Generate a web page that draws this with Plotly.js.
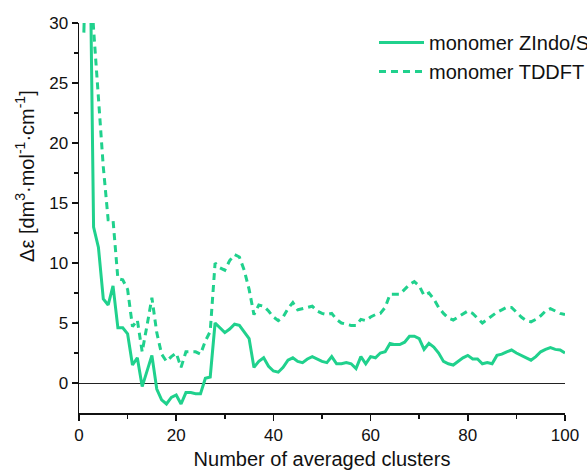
<!DOCTYPE html>
<html>
<head>
<meta charset="utf-8">
<script src="https://cdn.plot.ly/plotly-3.0.1.min.js"></script>
<style>html,body{margin:0;padding:0;background:#fff;}#chart{width:587px;height:476px;}</style>
</head>
<body>
<div id="chart"></div>
<script>
// Number of averaged clusters
var clusters = [];
for (var i = 1; i <= 100; i++) clusters.push(i);

var zindoValues = [
  29.2, 45, 13, 11.3, 7, 6.5, 8.1, 4.6, 4.6, 4.1,
  1.5, 2.1, -0.3, 1.0, 2.3, -0.5, -1.4, -1.75, -1.2, -1.0,
  -1.75, -0.8, -0.8, -0.9, -0.9, 0.4, 0.5, 5.0, 4.6, 4.2,
  4.5, 4.9, 4.8, 4.2, 3.7, 1.3, 1.8, 2.1, 1.4, 1.0,
  0.9, 1.3, 1.9, 2.1, 1.8, 1.7, 2.0, 2.2, 2.0, 1.8,
  1.7, 2.2, 1.6, 1.6, 1.7, 1.6, 1.2, 2.2, 1.6, 2.2,
  2.1, 2.5, 2.6, 3.3, 3.2, 3.2, 3.4, 3.9, 3.9, 3.7,
  2.8, 3.3, 3.0, 2.5, 1.8, 1.6, 1.5, 1.8, 2.1, 2.3,
  2.0, 2.0, 1.6, 1.7, 1.6, 2.3, 2.4, 2.6, 2.75, 2.5,
  2.3, 2.1, 1.9, 2.2, 2.6, 2.8, 2.95, 2.8, 2.75, 2.5
];

var tddftValues = [
  40, 36, 29.5, 24, 18, 13.6, 13.6, 8.7, 8.6, 7.8,
  4.7, 5.25, 2.6, 4.8, 7.1, 4.2, 2.4, 1.8, 2.2, 2.5,
  1.3, 2.6, 2.6, 2.6, 2.4, 3.5, 4.3, 10.0, 9.6, 9.4,
  10.2, 10.7, 10.5, 9.4, 7.8, 5.7, 6.5, 6.4, 6.0, 5.5,
  5.2, 5.5, 6.2, 6.7, 6.1, 6.2, 6.3, 6.4, 6.0, 5.8,
  5.7, 5.8, 5.3, 5.0, 4.9, 4.8, 4.8, 5.3, 5.2, 5.5,
  5.7, 5.8, 6.3, 7.4, 7.4, 7.4, 7.8, 8.2, 8.45, 8.1,
  7.3, 7.5, 7.0, 6.3, 5.8, 5.4, 5.25, 5.5, 5.8, 6.0,
  5.8, 5.4, 5.0, 5.3, 5.6, 5.9, 6.1, 6.3, 6.3, 5.9,
  5.5, 5.2, 5.1, 5.3, 5.6, 6.0, 6.2, 6.0, 5.8, 5.7
];

var seriesNames = ['monomer ZIndo/S', 'monomer TDDFT'];
var xTicks = [0, 20, 40, 60, 80, 100];
var yTicks = [0, 5, 10, 15, 20, 25, 30];
var xTitle = 'Number of averaged clusters';
var yTitle = 'Δε [dm<sup>3</sup>·mol<sup>-1</sup>·cm<sup>-1</sup>]';

var color = '#20d18d';
var font = 'Arial, "Liberation Sans", sans-serif';

var traces = [
  {x: clusters, y: zindoValues, name: seriesNames[0], type: 'scatter', mode: 'lines',
   line: {color: color, width: 3}},
  {x: clusters, y: tddftValues, name: seriesNames[1], type: 'scatter', mode: 'lines',
   line: {color: color, width: 3, dash: '7px,5px'}}
];

var layout = {
  width: 587, height: 476,
  margin: {l: 79, r: 22, t: 23, b: 63, autoexpand: false},
  paper_bgcolor: '#fff', plot_bgcolor: '#fff',
  font: {family: font, size: 17, color: '#111'},
  showlegend: true,
  legend: {x: 0.607, y: 1.0, xanchor: 'left', yanchor: 'top', bgcolor: 'rgba(0,0,0,0)',
           font: {family: font, size: 20, color: '#111'}, itemwidth: 45, tracegroupgap: 0},
  xaxis: {
    range: [0, 100], tickvals: xTicks, ticktext: xTicks.map(String),
    ticks: 'outside', ticklen: 6, tickwidth: 1.5, tickcolor: '#111',
    showline: true, linecolor: '#111', linewidth: 1.5, showgrid: false, zeroline: false,
    minor: {tickvals: [10, 30, 50, 70, 90], ticks: 'outside', ticklen: 4, tickwidth: 1.5, tickcolor: '#111'},
    tickfont: {family: font, size: 17, color: '#111'},
    title: {text: xTitle, font: {family: font, size: 20, color: '#111'}, standoff: 8}
  },
  yaxis: {
    range: [-2.5, 30], tickvals: yTicks, ticktext: yTicks.map(String),
    ticks: 'outside', ticklen: 6, tickwidth: 1.5, tickcolor: '#111',
    showline: true, linecolor: '#111', linewidth: 1.5, showgrid: false,
    zeroline: true, zerolinecolor: '#222', zerolinewidth: 1,
    minor: {tickvals: [2.5, 7.5, 12.5, 17.5, 22.5, 27.5], ticks: 'outside', ticklen: 4, tickwidth: 1.5, tickcolor: '#111'},
    tickfont: {family: font, size: 17, color: '#111'}
  },
  annotations: [{
    text: yTitle, xref: 'paper', yref: 'paper', x: -0.111, y: 0.608,
    xanchor: 'center', yanchor: 'middle', textangle: -90, showarrow: false,
    font: {family: font, size: 20, color: '#111'}
  }]
};

Plotly.newPlot('chart', traces, layout, {displayModeBar: false, staticPlot: true});
</script>
</body>
</html>
